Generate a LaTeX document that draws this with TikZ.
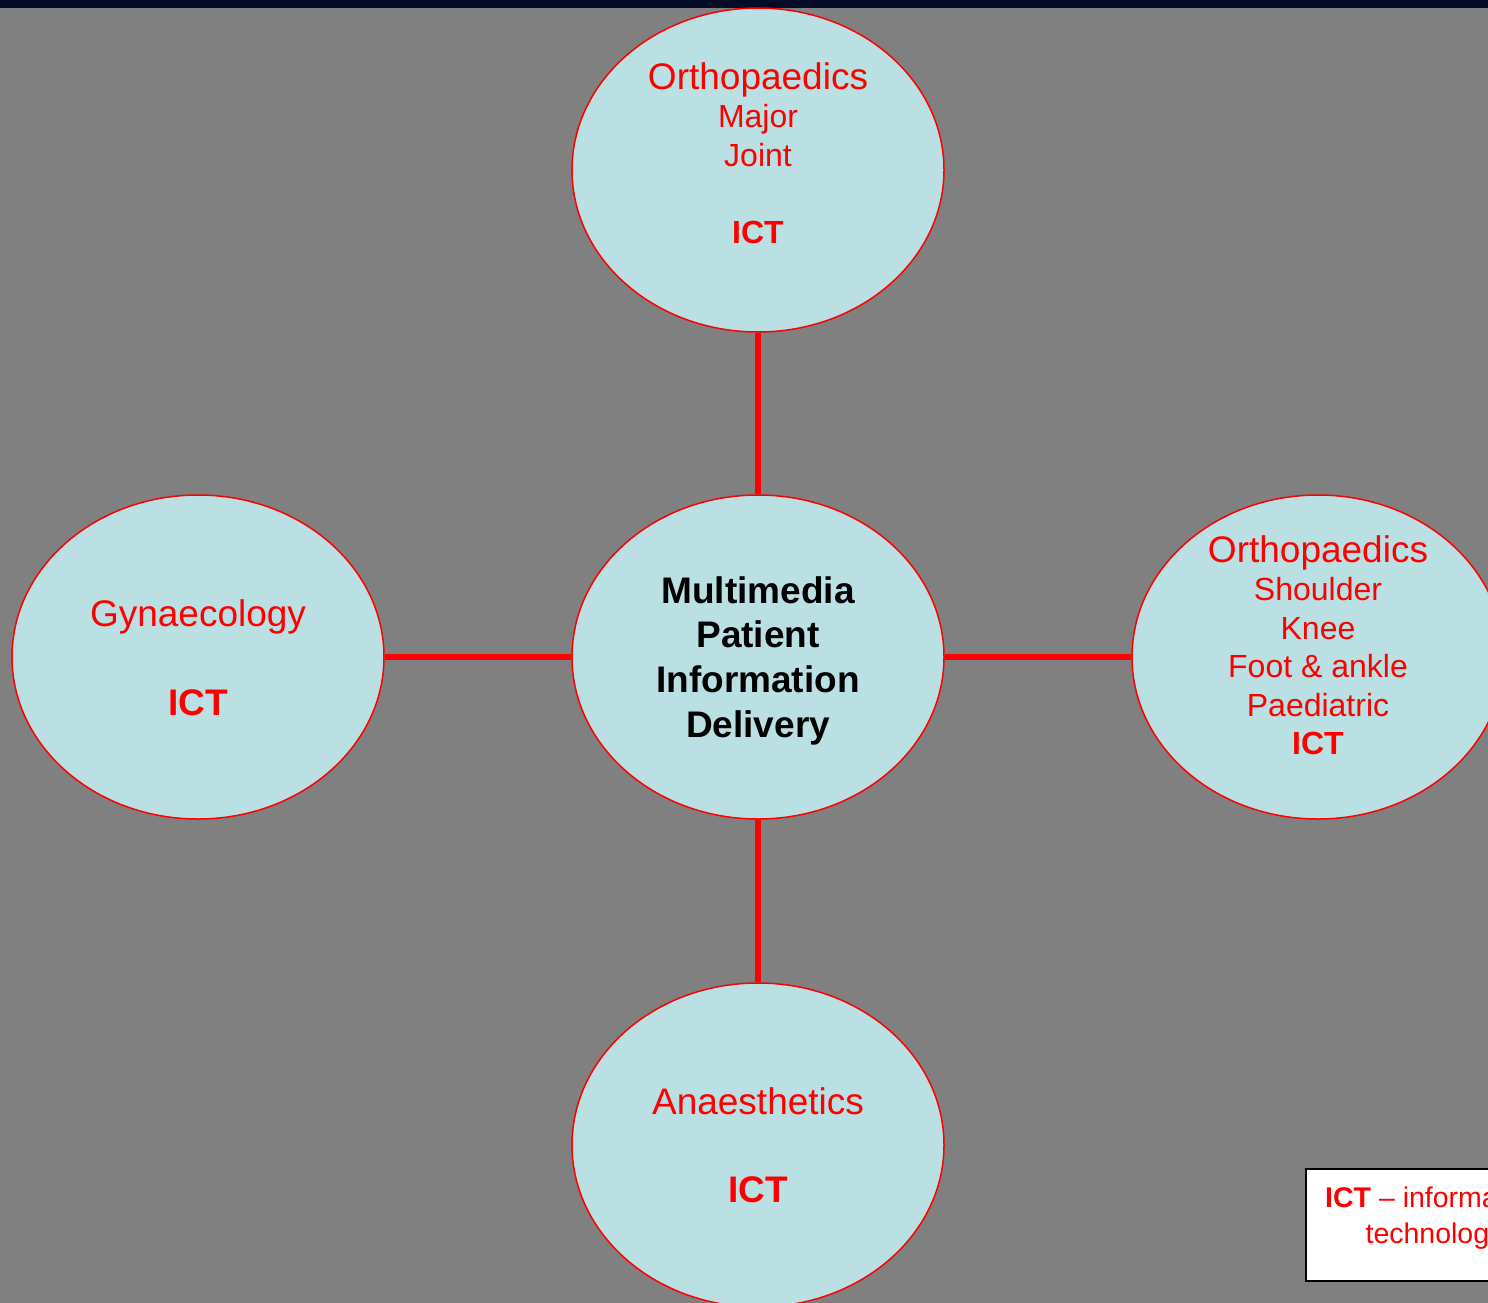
\documentclass[tikz,border=0pt]{standalone}
\usepackage{fontspec}
\setmainfont{Liberation Sans}
\usetikzlibrary{shapes.geometric, positioning}
\definecolor{slidegray}{RGB}{128,128,128}
\definecolor{bubblefill}{RGB}{186,224,227}
\definecolor{topbar}{RGB}{2,12,38}
\tikzset{
    bubble/.style={ellipse, draw=red, fill=bubblefill, line width=1.5pt, inner sep=0pt, minimum width=372pt, minimum height=324pt},
    bubbletext/.style={text=red, align=center, inner sep=0pt, font=\fontsize{32}{38.5}\selectfont},
    hubtext/.style={text=black, align=center, inner sep=0pt, font=\bfseries\fontsize{37}{44.7}\selectfont},
    myline/.style={draw=red, line width=6pt},
    keybox/.style={rectangle, draw=black, line width=2pt, fill=white, inner sep=0pt, minimum width=260pt, minimum height=112pt},
    keytext/.style={text=red, align=center, inner sep=0pt, font=\fontsize{28.5}{35.5}\selectfont}
}
\newcommand{\headline}[1]{{\fontsize{37}{44.7}\selectfont #1}}
\begin{document}
\begin{tikzpicture}[x=1pt, y=-1pt]
        \useasboundingbox (0,0) rectangle (1488,1303);
        \clip (0,0) rectangle (1488,1303);
        \fill[slidegray] (0,0) rectangle (1488,1303);
        \fill[topbar] (0,0) rectangle (1488,8);

        % ------------------
        % nodes
        % ------------------

        \node[bubble] (hub) at (758,657) {};
        \node[bubble] (ortho major) at (758,170) {};
        \node[bubble] (gynae) at (198,657) {};
        \node[bubble] (ortho limbs) at (1318,657) {};
        \node[bubble] (anaes) at (758,1145) {};

        \node[hubtext, anchor=north] (hub text) at (758,576) {Multimedia\\Patient\\Information\\Delivery};
        \node[bubbletext, anchor=north] (major text) at (758,62) {\headline{Orthopaedics}\\Major\\Joint\\[38.5pt]\textbf{ICT}};
        \node[bubbletext, anchor=north] (gynae text) at (198,599) {\headline{Gynaecology}\\[51pt]\headline{\textbf{ICT}}};
        \node[bubbletext, anchor=north] (limbs text) at (1318,535) {\headline{Orthopaedics}\\Shoulder\\Knee\\Foot \& ankle\\Paediatric\\\textbf{ICT}};
        \node[bubbletext, anchor=north] (anaes text) at (758,1087) {\headline{Anaesthetics}\\[50pt]\headline{\textbf{ICT}}};

        \node[keybox, anchor=north west] (key) at (1305,1168) {};
        \node[keytext, anchor=north west] (key text) at ([xshift=20pt, yshift=-19pt]key.north west) {\textbf{ICT} -- information\\technology};

        % ------------------
        % connectors
        % ------------------

        \draw[myline] (ortho major) -- (hub);
        \draw[myline] (gynae) -- (hub);
        \draw[myline] (hub) -- (ortho limbs);
        \draw[myline] (hub) -- (anaes);

    \end{tikzpicture}
\end{document}
